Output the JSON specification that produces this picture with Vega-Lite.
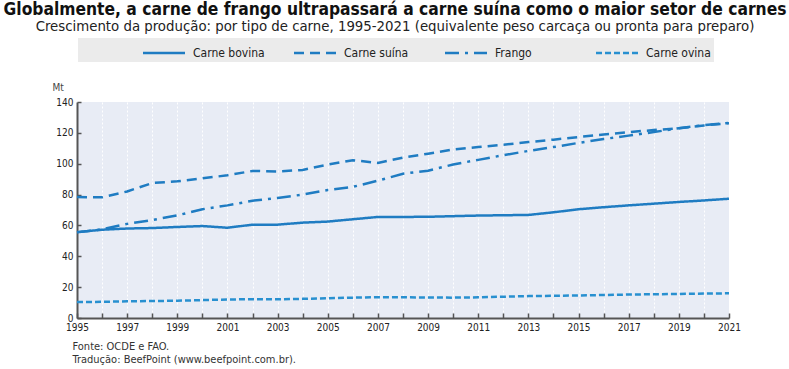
{
  "$schema": "https://vega.github.io/schema/vega-lite/v6.json",
  "width": 652,
  "height": 216,
  "autosize": {"type": "none"},
  "padding": {"left": 77, "top": 102, "right": 60, "bottom": 51},
  "background": "white",
  "title": {
    "text": "Globalmente, a carne de frango ultrapassará a carne suína como o maior setor de carnes",
    "subtitle": "Crescimento da produção: por tipo de carne, 1995-2021 (equivalente peso carcaça ou pronta para preparo)",
    "anchor": "middle",
    "dx": -8,
    "offset": 4,
    "font": "DejaVu Sans Condensed, DejaVu Sans",
    "fontSize": 17.3,
    "fontWeight": "bold",
    "color": "#111",
    "subtitleFont": "DejaVu Sans Condensed, DejaVu Sans",
    "subtitleFontSize": 14.8,
    "subtitleColor": "#222",
    "subtitlePadding": 1,
    "subtitleLineHeight": 15
  },
  "config": {
    "view": {"fill": "#e8ecf5", "stroke": null},
    "font": "DejaVu Sans Condensed, DejaVu Sans"
  },
  "data": {
    "values": [
      {"year": 1995, "type": "Carne bovina", "value": 55.7},
      {"year": 1996, "type": "Carne bovina", "value": 57.2},
      {"year": 1997, "type": "Carne bovina", "value": 58.0},
      {"year": 1998, "type": "Carne bovina", "value": 58.3},
      {"year": 1999, "type": "Carne bovina", "value": 59.0},
      {"year": 2000, "type": "Carne bovina", "value": 59.6},
      {"year": 2001, "type": "Carne bovina", "value": 58.5},
      {"year": 2002, "type": "Carne bovina", "value": 60.5},
      {"year": 2003, "type": "Carne bovina", "value": 60.5},
      {"year": 2004, "type": "Carne bovina", "value": 61.8},
      {"year": 2005, "type": "Carne bovina", "value": 62.5},
      {"year": 2006, "type": "Carne bovina", "value": 64.0},
      {"year": 2007, "type": "Carne bovina", "value": 65.5},
      {"year": 2008, "type": "Carne bovina", "value": 65.5},
      {"year": 2009, "type": "Carne bovina", "value": 65.6},
      {"year": 2010, "type": "Carne bovina", "value": 66.0},
      {"year": 2011, "type": "Carne bovina", "value": 66.4},
      {"year": 2012, "type": "Carne bovina", "value": 66.6},
      {"year": 2013, "type": "Carne bovina", "value": 66.8},
      {"year": 2014, "type": "Carne bovina", "value": 68.5},
      {"year": 2015, "type": "Carne bovina", "value": 70.5},
      {"year": 2016, "type": "Carne bovina", "value": 71.8},
      {"year": 2017, "type": "Carne bovina", "value": 73.0},
      {"year": 2018, "type": "Carne bovina", "value": 74.1},
      {"year": 2019, "type": "Carne bovina", "value": 75.2},
      {"year": 2020, "type": "Carne bovina", "value": 76.2},
      {"year": 2021, "type": "Carne bovina", "value": 77.3},
      {"year": 1995, "type": "Carne suína", "value": 78.4},
      {"year": 1996, "type": "Carne suína", "value": 78.2},
      {"year": 1997, "type": "Carne suína", "value": 82.0},
      {"year": 1998, "type": "Carne suína", "value": 87.5},
      {"year": 1999, "type": "Carne suína", "value": 88.6},
      {"year": 2000, "type": "Carne suína", "value": 90.5},
      {"year": 2001, "type": "Carne suína", "value": 92.5},
      {"year": 2002, "type": "Carne suína", "value": 95.3},
      {"year": 2003, "type": "Carne suína", "value": 95.0},
      {"year": 2004, "type": "Carne suína", "value": 96.0},
      {"year": 2005, "type": "Carne suína", "value": 99.4},
      {"year": 2006, "type": "Carne suína", "value": 102.3},
      {"year": 2007, "type": "Carne suína", "value": 100.5},
      {"year": 2008, "type": "Carne suína", "value": 104.0},
      {"year": 2009, "type": "Carne suína", "value": 106.5},
      {"year": 2010, "type": "Carne suína", "value": 109.2},
      {"year": 2011, "type": "Carne suína", "value": 110.8},
      {"year": 2012, "type": "Carne suína", "value": 112.3},
      {"year": 2013, "type": "Carne suína", "value": 114.0},
      {"year": 2014, "type": "Carne suína", "value": 115.6},
      {"year": 2015, "type": "Carne suína", "value": 117.3},
      {"year": 2016, "type": "Carne suína", "value": 118.9},
      {"year": 2017, "type": "Carne suína", "value": 120.5},
      {"year": 2018, "type": "Carne suína", "value": 121.8},
      {"year": 2019, "type": "Carne suína", "value": 123.0},
      {"year": 2020, "type": "Carne suína", "value": 124.8},
      {"year": 2021, "type": "Carne suína", "value": 126.3},
      {"year": 1995, "type": "Frango", "value": 55.5},
      {"year": 1996, "type": "Frango", "value": 57.5},
      {"year": 1997, "type": "Frango", "value": 61.0},
      {"year": 1998, "type": "Frango", "value": 63.5},
      {"year": 1999, "type": "Frango", "value": 66.5},
      {"year": 2000, "type": "Frango", "value": 70.5},
      {"year": 2001, "type": "Frango", "value": 73.0},
      {"year": 2002, "type": "Frango", "value": 76.0},
      {"year": 2003, "type": "Frango", "value": 77.8},
      {"year": 2004, "type": "Frango", "value": 80.0},
      {"year": 2005, "type": "Frango", "value": 83.0},
      {"year": 2006, "type": "Frango", "value": 85.0},
      {"year": 2007, "type": "Frango", "value": 89.0},
      {"year": 2008, "type": "Frango", "value": 93.5},
      {"year": 2009, "type": "Frango", "value": 95.5},
      {"year": 2010, "type": "Frango", "value": 99.5},
      {"year": 2011, "type": "Frango", "value": 102.5},
      {"year": 2012, "type": "Frango", "value": 105.5},
      {"year": 2013, "type": "Frango", "value": 108.3},
      {"year": 2014, "type": "Frango", "value": 110.8},
      {"year": 2015, "type": "Frango", "value": 113.5},
      {"year": 2016, "type": "Frango", "value": 116.0},
      {"year": 2017, "type": "Frango", "value": 118.2},
      {"year": 2018, "type": "Frango", "value": 120.5},
      {"year": 2019, "type": "Frango", "value": 123.0},
      {"year": 2020, "type": "Frango", "value": 125.0},
      {"year": 2021, "type": "Frango", "value": 126.5},
      {"year": 1995, "type": "Carne ovina", "value": 10.3},
      {"year": 1996, "type": "Carne ovina", "value": 10.5},
      {"year": 1997, "type": "Carne ovina", "value": 10.8},
      {"year": 1998, "type": "Carne ovina", "value": 11.0},
      {"year": 1999, "type": "Carne ovina", "value": 11.2},
      {"year": 2000, "type": "Carne ovina", "value": 11.6},
      {"year": 2001, "type": "Carne ovina", "value": 12.0},
      {"year": 2002, "type": "Carne ovina", "value": 12.2},
      {"year": 2003, "type": "Carne ovina", "value": 12.1},
      {"year": 2004, "type": "Carne ovina", "value": 12.4},
      {"year": 2005, "type": "Carne ovina", "value": 12.8},
      {"year": 2006, "type": "Carne ovina", "value": 13.2},
      {"year": 2007, "type": "Carne ovina", "value": 13.5},
      {"year": 2008, "type": "Carne ovina", "value": 13.4},
      {"year": 2009, "type": "Carne ovina", "value": 13.3},
      {"year": 2010, "type": "Carne ovina", "value": 13.2},
      {"year": 2011, "type": "Carne ovina", "value": 13.4},
      {"year": 2012, "type": "Carne ovina", "value": 13.8},
      {"year": 2013, "type": "Carne ovina", "value": 14.2},
      {"year": 2014, "type": "Carne ovina", "value": 14.4},
      {"year": 2015, "type": "Carne ovina", "value": 14.6},
      {"year": 2016, "type": "Carne ovina", "value": 14.9},
      {"year": 2017, "type": "Carne ovina", "value": 15.2},
      {"year": 2018, "type": "Carne ovina", "value": 15.4},
      {"year": 2019, "type": "Carne ovina", "value": 15.6},
      {"year": 2020, "type": "Carne ovina", "value": 15.8},
      {"year": 2021, "type": "Carne ovina", "value": 16.0}
    ]
  },
  "mark": {"type": "line", "strokeWidth": 2.5, "clip": false},
  "encoding": {
    "x": {
      "field": "year",
      "type": "quantitative",
      "scale": {"domain": [1995, 2021], "nice": false, "zero": false},
      "axis": {
        "values": [1995,1996,1997,1998,1999,2000,2001,2002,2003,2004,2005,2006,2007,2008,2009,2010,2011,2012,2013,2014,2015,2016,2017,2018,2019,2020,2021],
        "labelExpr": "datum.value % 2 == 1 ? datum.value : ''",
        "format": "d",
        "grid": true,
        "gridColor": "#ffffff",
        "gridWidth": 1,
        "gridDash": [2, 2],
        "domainColor": "#555",
        "domainWidth": 2,
        "tickColor": "#555",
        "tickSize": -5,
        "tickWidth": 1.5,
        "labelPadding": 9,
        "labelFont": "Liberation Sans Narrow, DejaVu Sans Condensed",
        "labelFontSize": 10,
        "labelColor": "#222",
        "labelFlush": false,
        "labelOverlap": false,
        "title": ["Fonte: OCDE e FAO.", "Tradução: BeefPoint (www.beefpoint.com.br)."],
        "titleAnchor": "start",
        "titleAlign": "left",
        "titleX": -5,
        "titleY": 22,
        "titleBaseline": "top",
        "titleFont": "DejaVu Sans Condensed, DejaVu Sans",
        "titleFontSize": 11,
        "titleFontWeight": "normal",
        "titleColor": "#333",
        "titleLineHeight": 13
      }
    },
    "y": {
      "field": "value",
      "type": "quantitative",
      "scale": {"domain": [0, 140], "nice": false},
      "axis": {
        "values": [0, 20, 40, 60, 80, 100, 120, 140],
        "grid": false,
        "domainColor": "#555",
        "domainWidth": 2,
        "tickColor": "#555",
        "tickSize": -4,
        "tickWidth": 1.5,
        "labelPadding": 8,
        "labelFont": "Liberation Sans Narrow, DejaVu Sans Condensed",
        "labelFontSize": 10,
        "labelColor": "#222",
        "title": "Mt",
        "titleAngle": 0,
        "titleX": -25,
        "titleY": -10,
        "titleAlign": "left",
        "titleFont": "Liberation Sans Narrow, DejaVu Sans Condensed",
        "titleFontSize": 10,
        "titleFontWeight": "normal",
        "titleColor": "#444"
      }
    },
    "color": {
      "field": "type",
      "type": "nominal",
      "sort": ["Carne bovina", "Carne suína", "Frango", "Carne ovina"],
      "scale": {
        "domain": ["Carne bovina", "Carne suína", "Frango", "Carne ovina"],
        "range": ["#1f7cc2", "#1f7cc2", "#1f7cc2", "#2890d0"]
      },
      "legend": {
        "orient": "none",
        "legendX": 1,
        "legendY": -64,
        "direction": "horizontal",
        "columns": 4,
        "gridAlign": "all",
        "title": " ",
        "titleOrient": "left",
        "titlePadding": 71,
        "fillColor": "#ebebeb",
        "padding": 3,
        "columnPadding": 24,
        "symbolType": "M-2,0H2",
        "symbolSize": 441,
        "symbolStrokeWidth": 2.5,
        "labelFont": "DejaVu Sans Condensed, DejaVu Sans",
        "labelFontSize": 12,
        "labelColor": "#222",
        "labelOffset": 17
      }
    },
    "strokeDash": {
      "field": "type",
      "type": "nominal",
      "sort": ["Carne bovina", "Carne suína", "Frango", "Carne ovina"],
      "scale": {
        "domain": ["Carne bovina", "Carne suína", "Frango", "Carne ovina"],
        "range": [[1, 0], [10, 6], [14, 6, 3, 6], [6, 3]]
      },
      "legend": null
    }
  }
}
